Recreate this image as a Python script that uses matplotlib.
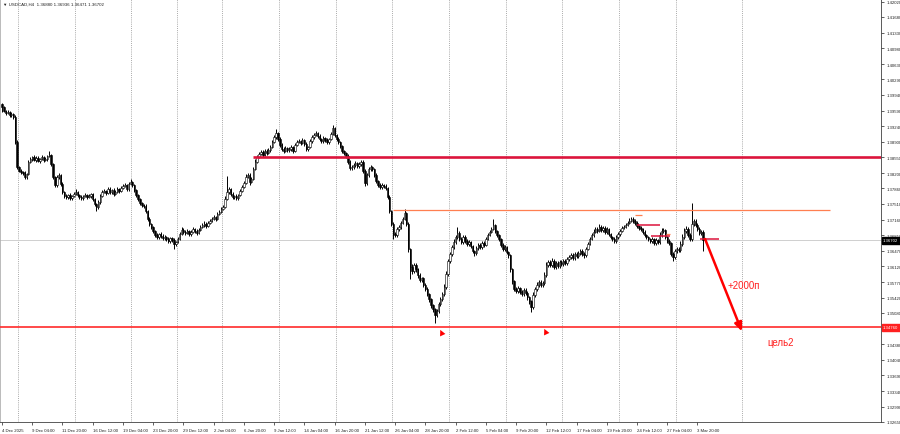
import matplotlib
matplotlib.use("Agg")
import matplotlib.pyplot as plt
import numpy as np
from matplotlib.transforms import blended_transform_factory
from matplotlib.markers import MarkerStyle

plt.rcParams['font.family'] = ['Liberation Sans', 'DejaVu Sans']

# ---------------- data ----------------
symbol_header = "\u25BC USDCAD,H4  1.36880 1.36936 1.36471 1.36702"
first_open = 1.3975
closes = [
    1.3967, 1.3958, 1.3954, 1.3956, 1.3949, 1.3952, 1.3945, 1.3889, 1.3833, 1.3825,
    1.3822, 1.3820, 1.3811, 1.3818, 1.3845, 1.3851, 1.3856, 1.3849, 1.3854, 1.3847,
    1.3851, 1.3856, 1.3849, 1.3851, 1.3858, 1.3860, 1.3840, 1.3811, 1.3793, 1.3811,
    1.3816, 1.3796, 1.3778, 1.3769, 1.3767, 1.3771, 1.3764, 1.3769, 1.3773, 1.3778,
    1.3771, 1.3767, 1.3764, 1.3769, 1.3771, 1.3767, 1.3769, 1.3773, 1.3762, 1.3751,
    1.3744, 1.3755, 1.3769, 1.3778, 1.3780, 1.3776, 1.3784, 1.3778, 1.3782, 1.3773,
    1.3778, 1.3784, 1.3780, 1.3787, 1.3791, 1.3793, 1.3784, 1.3796, 1.3800, 1.3793,
    1.3782, 1.3771, 1.3762, 1.3753, 1.3749, 1.3747, 1.3735, 1.3718, 1.3707, 1.3700,
    1.3691, 1.3682, 1.3677, 1.3684, 1.3680, 1.3675, 1.3677, 1.3673, 1.3669, 1.3675,
    1.3671, 1.3662, 1.3666, 1.3673, 1.3684, 1.3693, 1.3689, 1.3686, 1.3691, 1.3684,
    1.3689, 1.3695, 1.3691, 1.3686, 1.3693, 1.3700, 1.3704, 1.3707, 1.3702, 1.3709,
    1.3713, 1.3718, 1.3722, 1.3718, 1.3729, 1.3733, 1.3740, 1.3744, 1.3762, 1.3778,
    1.3784, 1.3773, 1.3767, 1.3769, 1.3764, 1.3771, 1.3780, 1.3789, 1.3798, 1.3811,
    1.3816, 1.3800, 1.3807, 1.3829, 1.3845, 1.3856, 1.3863, 1.3867, 1.3860, 1.3869,
    1.3865, 1.3871, 1.3878, 1.3889, 1.3900, 1.3909, 1.3896, 1.3883, 1.3874, 1.3869,
    1.3876, 1.3871, 1.3874, 1.3878, 1.3869, 1.3883, 1.3889, 1.3891, 1.3887, 1.3894,
    1.3885, 1.3874, 1.3878, 1.3891, 1.3900, 1.3905, 1.3909, 1.3903, 1.3896, 1.3891,
    1.3898, 1.3894, 1.3889, 1.3896, 1.3907, 1.3920, 1.3905, 1.3896, 1.3889, 1.3880,
    1.3869, 1.3865, 1.3858, 1.3845, 1.3831, 1.3833, 1.3838, 1.3842, 1.3836, 1.3840,
    1.3845, 1.3825, 1.3798, 1.3816, 1.3829, 1.3833, 1.3829, 1.3816, 1.3802, 1.3793,
    1.3789, 1.3793, 1.3791, 1.3787, 1.3767, 1.3735, 1.3707, 1.3684, 1.3682, 1.3695,
    1.3700, 1.3709, 1.3718, 1.3731, 1.3707, 1.3651, 1.3611, 1.3602, 1.3615, 1.3606,
    1.3593, 1.3582, 1.3586, 1.3571, 1.3562, 1.3550, 1.3539, 1.3526, 1.3516, 1.3504,
    1.3512, 1.3528, 1.3539, 1.3550, 1.3566, 1.3595, 1.3624, 1.3640, 1.3655, 1.3666,
    1.3677, 1.3686, 1.3673, 1.3666, 1.3677, 1.3669, 1.3662, 1.3666, 1.3657, 1.3646,
    1.3642, 1.3653, 1.3660, 1.3655, 1.3664, 1.3660, 1.3673, 1.3682, 1.3689, 1.3695,
    1.3704, 1.3691, 1.3682, 1.3673, 1.3660, 1.3651, 1.3655, 1.3644, 1.3637, 1.3606,
    1.3579, 1.3562, 1.3557, 1.3564, 1.3555, 1.3550, 1.3559, 1.3553, 1.3544, 1.3535,
    1.3521, 1.3548, 1.3562, 1.3571, 1.3577, 1.3571, 1.3575, 1.3593, 1.3615, 1.3622,
    1.3615, 1.3624, 1.3611, 1.3620, 1.3613, 1.3622, 1.3617, 1.3624, 1.3620, 1.3628,
    1.3633, 1.3637, 1.3631, 1.3640, 1.3635, 1.3642, 1.3646, 1.3640, 1.3637, 1.3651,
    1.3662, 1.3673, 1.3682, 1.3689, 1.3695, 1.3691, 1.3700, 1.3693, 1.3698, 1.3689,
    1.3695, 1.3684, 1.3677, 1.3673, 1.3669, 1.3677, 1.3684, 1.3691, 1.3698, 1.3700,
    1.3704, 1.3709, 1.3713, 1.3718, 1.3713, 1.3709, 1.3702, 1.3698, 1.3695, 1.3689,
    1.3682, 1.3677, 1.3673, 1.3669, 1.3673, 1.3664, 1.3671, 1.3666, 1.3682, 1.3691,
    1.3693, 1.3677, 1.3669, 1.3664, 1.3640, 1.3633, 1.3646, 1.3651, 1.3649, 1.3662,
    1.3677, 1.3691, 1.3695, 1.3682, 1.3673, 1.3707, 1.3713, 1.3704, 1.3695, 1.3686,
    1.3688, 1.36702,
]
# upper / lower shadows in pips
wick_up = [
    2, 3, 2, 4, 2, 3, 2, 5, 4, 3, 3, 2, 4, 3, 5, 4, 3, 4, 3, 4,
    3, 4, 3, 4, 3, 9, 3, 2, 3, 4, 3, 2, 3, 2, 4, 3, 4, 3, 5, 6,
    3, 2, 4, 3, 4, 3, 4, 3, 2, 3, 3, 4, 5, 4, 4, 3, 4, 5, 3, 4,
    4, 5, 3, 4, 4, 5, 3, 5, 6, 3, 3, 2, 3, 2, 3, 2, 3, 2, 3, 2,
    3, 3, 4, 3, 4, 3, 4, 3, 4, 3, 3, 4, 3, 4, 5, 7, 4, 3, 4, 3,
    4, 5, 3, 4, 4, 5, 4, 7, 3, 4, 4, 4, 5, 3, 4, 4, 5, 4, 6, 35,
    5, 3, 4, 3, 4, 3, 5, 4, 5, 6, 5, 4, 4, 5, 6, 4, 5, 4, 4, 5,
    4, 5, 5, 4, 5, 9, 3, 4, 3, 4, 5, 3, 4, 5, 3, 5, 4, 5, 3, 5,
    3, 4, 3, 5, 4, 5, 5, 3, 4, 3, 4, 3, 4, 3, 5, 7, 3, 3, 4, 3,
    3, 3, 3, 4, 3, 5, 4, 5, 3, 4, 4, 3, 4, 5, 4, 5, 3, 3, 3, 3,
    4, 4, 3, 4, 3, 3, 3, 3, 4, 5, 4, 5, 5, 9, 3, 3, 3, 6, 5, 4,
    3, 4, 3, 3, 3, 3, 3, 3, 3, 4, 5, 5, 4, 5, 6, 6, 5, 5, 5, 6,
    5, 14, 4, 5, 5, 4, 5, 4, 3, 3, 3, 5, 5, 4, 5, 4, 5, 5, 5, 5,
    14, 3, 3, 3, 3, 3, 4, 3, 3, 3, 3, 3, 4, 5, 3, 4, 5, 4, 3, 3,
    3, 6, 5, 5, 5, 4, 5, 6, 6, 5, 4, 6, 4, 5, 4, 5, 4, 5, 4, 5,
    5, 5, 4, 5, 4, 5, 5, 4, 3, 5, 5, 5, 5, 6, 5, 4, 6, 5, 5, 4,
    5, 3, 3, 3, 4, 4, 5, 5, 5, 5, 5, 5, 6, 5, 5, 4, 3, 3, 3, 3,
    3, 3, 3, 3, 4, 3, 5, 3, 6, 6, 5, 3, 3, 3, 3, 3, 5, 4, 5, 6,
    6, 6, 6, 4, 4, 46, 5, 4, 4, 4, 5, 6,
]
wick_dn = [
    12, 3, 4, 3, 4, 3, 4, 5, 4, 3, 4, 4, 5, 4, 3, 3, 4, 3, 4, 3,
    4, 3, 4, 3, 4, 3, 4, 5, 5, 3, 4, 4, 4, 5, 4, 4, 5, 4, 3, 3,
    4, 4, 5, 4, 3, 4, 3, 4, 5, 5, 9, 4, 3, 3, 3, 4, 3, 4, 4, 5,
    3, 3, 4, 3, 3, 3, 4, 3, 3, 4, 4, 4, 5, 4, 4, 5, 4, 5, 5, 4,
    5, 5, 4, 5, 4, 5, 4, 5, 4, 5, 4, 11, 4, 3, 3, 3, 4, 4, 3, 4,
    4, 3, 4, 4, 3, 3, 3, 4, 4, 3, 3, 3, 3, 4, 3, 3, 3, 3, 3, 3,
    4, 5, 4, 5, 4, 4, 3, 3, 3, 3, 3, 6, 3, 3, 3, 3, 3, 3, 4, 3,
    4, 3, 3, 3, 3, 3, 4, 4, 5, 4, 3, 4, 4, 4, 5, 3, 3, 3, 4, 3,
    4, 5, 4, 3, 3, 3, 3, 4, 4, 4, 4, 4, 4, 4, 3, 3, 4, 4, 4, 4,
    4, 4, 4, 5, 5, 4, 4, 4, 5, 4, 4, 5, 7, 4, 4, 4, 4, 5, 5, 5,
    5, 5, 5, 5, 5, 5, 5, 11, 5, 4, 4, 4, 3, 3, 4, 6, 27, 6, 5, 6,
    6, 5, 6, 5, 5, 5, 6, 6, 6, 18, 5, 5, 5, 4, 4, 4, 4, 4, 4, 4,
    4, 4, 5, 5, 4, 5, 5, 5, 5, 5, 7, 4, 4, 4, 4, 4, 3, 3, 3, 3,
    3, 5, 5, 5, 5, 5, 5, 5, 6, 6, 6, 6, 5, 5, 5, 5, 5, 5, 6, 6,
    11, 5, 4, 4, 4, 5, 4, 4, 4, 4, 5, 5, 5, 5, 5, 5, 4, 4, 4, 4,
    4, 4, 4, 4, 4, 4, 4, 5, 6, 4, 3, 3, 3, 4, 3, 4, 3, 4, 4, 4,
    4, 4, 4, 5, 5, 4, 4, 4, 3, 3, 3, 3, 3, 3, 4, 4, 4, 4, 4, 4,
    4, 4, 5, 5, 5, 5, 5, 5, 4, 4, 4, 5, 5, 5, 6, 9, 5, 5, 5, 5,
    4, 4, 4, 5, 5, 4, 4, 4, 5, 5, 5, 23,
]

date_labels = ["4 Dec 2025", "9 Dec 04:00", "11 Dec 20:00", "16 Dec 12:00", "19 Dec 04:00",
               "23 Dec 20:00", "29 Dec 12:00", "2 Jan 04:00", "6 Jan 20:00", "9 Jan 12:00",
               "14 Jan 04:00", "16 Jan 20:00", "21 Jan 12:00", "26 Jan 04:00", "28 Jan 20:00",
               "2 Feb 12:00", "5 Feb 04:00", "9 Feb 20:00", "12 Feb 12:00", "17 Feb 04:00",
               "19 Feb 20:00", "24 Feb 12:00", "27 Feb 04:00", "3 Mar 20:00"]
date_label_bars = [16 * k for k in range(len(date_labels))]
week_start_bars = [8.5, 38.5, 68.5, 92.5, 116.5, 146.5, 176.5, 206.5, 236.5, 266.5,
                   296.5, 326.5, 356.5, 391.5]

price_labels = ["1.42020", "1.41680", "1.41330", "1.40980", "1.40630", "1.40290", "1.39940",
                "1.39590", "1.39240", "1.38900", "1.38550", "1.38200", "1.37860", "1.37510",
                "1.37160", "1.36810", "1.36470", "1.36120", "1.35770", "1.35420", "1.35080",
                "1.34380", "1.34040", "1.33690", "1.33340", "1.32990", "1.32650"]

current_price = 1.36702
strong_resistance = 1.3855
resistance = 1.3738
target_level = 1.3476
minor_levels = [(1.3704, 336, 348), (1.3680, 343.4, 353.4), (1.3673, 369.3, 379.4)]
minor_marks = [(1.3727, 335, 338.6), (1.3684, 351.5, 353.5)]
signal_bars = [232.5, 287.5]
signal_prices = [1.3466, 1.3468]
arrow_start = (372, 1.3673)
arrow_end = (391.5, 1.3467)

# ---------------- figure ----------------
W, H = 900, 435
fig = plt.figure(figsize=(W / 100, H / 100), dpi=100)
fig.patch.set_facecolor("white")
ax = fig.add_axes([0, 12 / H, 881 / W, 423 / H])
ax.set_xlim(-1.06, 465.1)
ax.set_ylim(1.32651, 1.42080)

# week separators
for wb in week_start_bars:
    ax.axvline(wb, color="#8c8c8c", lw=0.55, ls=(0, (1.2, 1.6)), zorder=0)

# current price line
ax.axhline(current_price, color="#cfcfcf", lw=0.7, zorder=0.5)

# candles
opens = [first_open] + closes[:-1]
o = np.array(opens)
c = np.array(closes)
hi = np.maximum(o, c) + np.array(wick_up) / 10000.0
lo = np.minimum(o, c) - np.array(wick_dn) / 10000.0
idx = np.arange(len(c))
ax.vlines(idx, lo, hi, color="black", lw=0.7, zorder=2)
up = c >= o
ax.bar(idx[up], (c - o)[up], bottom=o[up], width=0.75, color="white",
       edgecolor="black", lw=0.4, zorder=3)
ax.bar(idx[~up], (o - c)[~up], bottom=c[~up], width=0.75, color="black",
       edgecolor="black", lw=0.4, zorder=3)

# levels
ax.hlines(strong_resistance, 132.8, 465.1, color="#dc143c", lw=1.9, zorder=4)
ax.hlines(resistance, 207, 438, color="#ff7f50", lw=0.9, zorder=4)
ax.axhline(target_level, color="#ff2a2a", lw=1.2, zorder=4)
for yv, x0, x1 in minor_levels:
    ax.hlines(yv, x0, x1, color="#dc143c", lw=1.1, zorder=4)
for yv, x0, x1 in minor_marks:
    ax.hlines(yv, x0, x1, color="#ff7f50", lw=0.9, zorder=4)

# signal arrows (pointing up-left)
sig_marker = MarkerStyle("^").rotated(deg=25)
ax.scatter(signal_bars, signal_prices, marker=sig_marker, s=18, color="#ff0000",
           zorder=5, linewidths=0)

# projected move arrow
ax.annotate("", xy=arrow_end, xytext=arrow_start,
            arrowprops=dict(arrowstyle="-|>,head_length=0.5,head_width=0.22",
                            color="#ff0000", lw=1.8,
                            mutation_scale=10, shrinkA=0, shrinkB=0), zorder=6)
ax.text(384.1, 1.35705, "+2000п", color="#ff2020", fontsize=7, va="center", ha="left")
ax.text(404.8, 1.3443, "цель2", color="#ff2020", fontsize=7, va="center", ha="left")

# axes styling
for side in ["left", "top"]:
    ax.spines[side].set_color("#b0b0b0")
    ax.spines[side].set_linewidth(0.6)
for side in ["right", "bottom"]:
    ax.spines[side].set_color("#404040")
    ax.spines[side].set_linewidth(0.6)

ax.yaxis.tick_right()
ax.set_yticks([float(s) for s in price_labels])
ax.set_yticklabels(price_labels)
ax.tick_params(axis="y", length=2.5, width=0.5, pad=1.5, labelsize=3.1, colors="#202020")

ax.set_xticks(date_label_bars)
ax.set_xticklabels(date_labels)
for lbl in ax.get_xticklabels():
    lbl.set_horizontalalignment("left")
ax.tick_params(axis="x", length=2.5, width=0.5, pad=1.5, labelsize=3.1, colors="#202020")

trans = blended_transform_factory(ax.transAxes, ax.transData)
ax.text(1.0 + 2 / 881, current_price, "%.5f" % current_price, transform=trans,
        color="white", fontsize=3.1, va="center", ha="left", clip_on=False,
        bbox=dict(boxstyle="square,pad=0.3", fc="black", ec="black"))
ax.text(1.0 + 2 / 881, target_level, "%.5f" % target_level, transform=trans,
        color="white", fontsize=3.1, va="center", ha="left", clip_on=False,
        bbox=dict(boxstyle="square,pad=0.3", fc="#ff2020", ec="#ff2020"))

fig.text(3 / W, 1 - 4.5 / H, symbol_header, fontsize=3.2, va="center", ha="left",
         color="#202020")

fig.savefig("out.png", dpi=100, facecolor="white")
